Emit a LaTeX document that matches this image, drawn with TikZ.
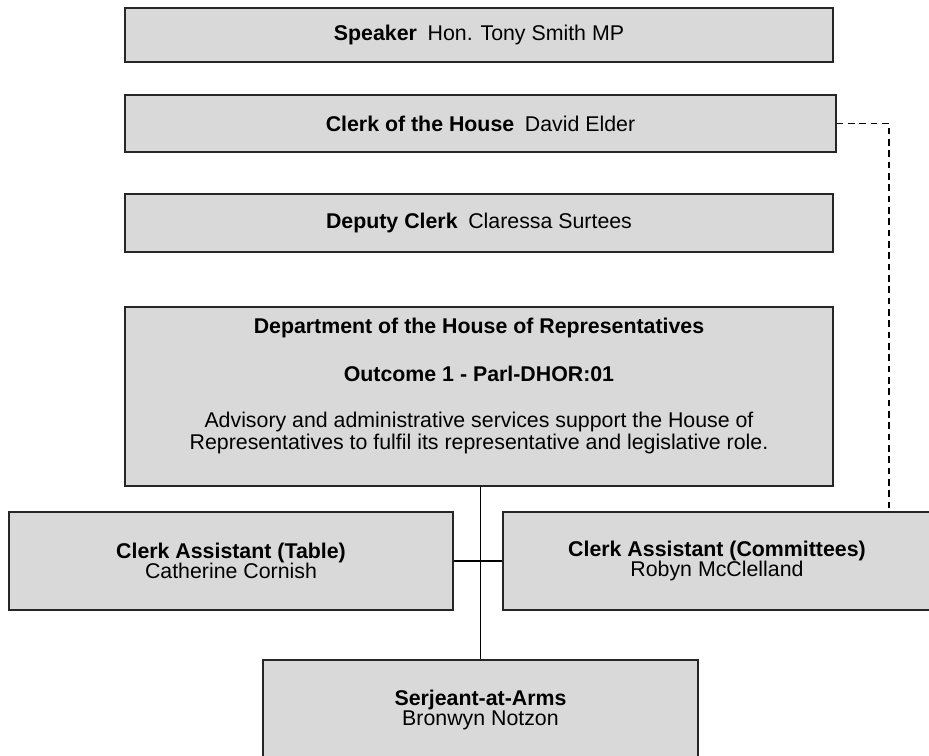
\documentclass[tikz,border=0pt]{standalone}
\usepackage{fontspec}
\setmainfont{Liberation Sans}
\usetikzlibrary{positioning}

\begin{document}
\begin{tikzpicture}[
  x=0.75pt, y=-0.75pt,
  font=\fontsize{16}{15.5}\selectfont,
  post/.style={draw=black!85, fill=gray!30, line width=0.8pt, inner sep=0pt,
               align=center, minimum width=531pt},
  link/.style={line width=1.2pt, black},
  dlink/.style={link, dash pattern=on 5pt off 3.5pt}
]
\useasboundingbox (0,0) rectangle (929,756);
% ----- top column -----
\node[post, minimum height=40.5pt] (speaker) at (479,35)
  {\textbf{Speaker}\enspace Hon. Tony Smith MP};
\node[post, minimum height=42.75pt, minimum width=533.25pt] (clerk) at (480.5,123.5)
  {\textbf{Clerk of the House}\enspace David Elder};
\node[post, minimum height=43.5pt] (deputy) at (479,223)
  {\textbf{Deputy Clerk}\enspace Claressa Surtees};
\node[post, minimum height=134.25pt] (dept) at (479,396.5) {};
\node[align=center, anchor=north, below=5.5pt of dept.north,
      font=\fontsize{16}{16.5}\selectfont] (outcome)
  {\textbf{Department of the House of Representatives}\\[19.5pt]
   \textbf{Outcome 1 - Parl-DHOR:01}\\[18pt]
   Advisory and administrative services support the House of\\
   Representatives to fulfil its representative and legislative role.};
% ----- bottom row -----
\node[post, minimum width=333pt, minimum height=73.5pt] (table) at (231,561)
  {\textbf{Clerk Assistant (Table)}\\Catherine Cornish};
\node[post, minimum width=321pt, minimum height=73.5pt] (cttee) at (717,561)
  {\textbf{Clerk Assistant (Committees)}\\Robyn McClelland};
\node[post, minimum width=326.25pt, minimum height=75pt] (serj) at (480.5,710)
  {\textbf{Serjeant-at-Arms}\\Bronwyn Notzon};
% ----- connectors -----
\draw[link] (dept.south -| serj.north) -- (serj.north);
\draw[link] (table.east) -- (cttee.west);
\coordinate (bend) at (889,123.5);
\draw[dlink] (clerk.east) -- (bend) -- (bend |- cttee.north);
\end{tikzpicture}
\end{document}
